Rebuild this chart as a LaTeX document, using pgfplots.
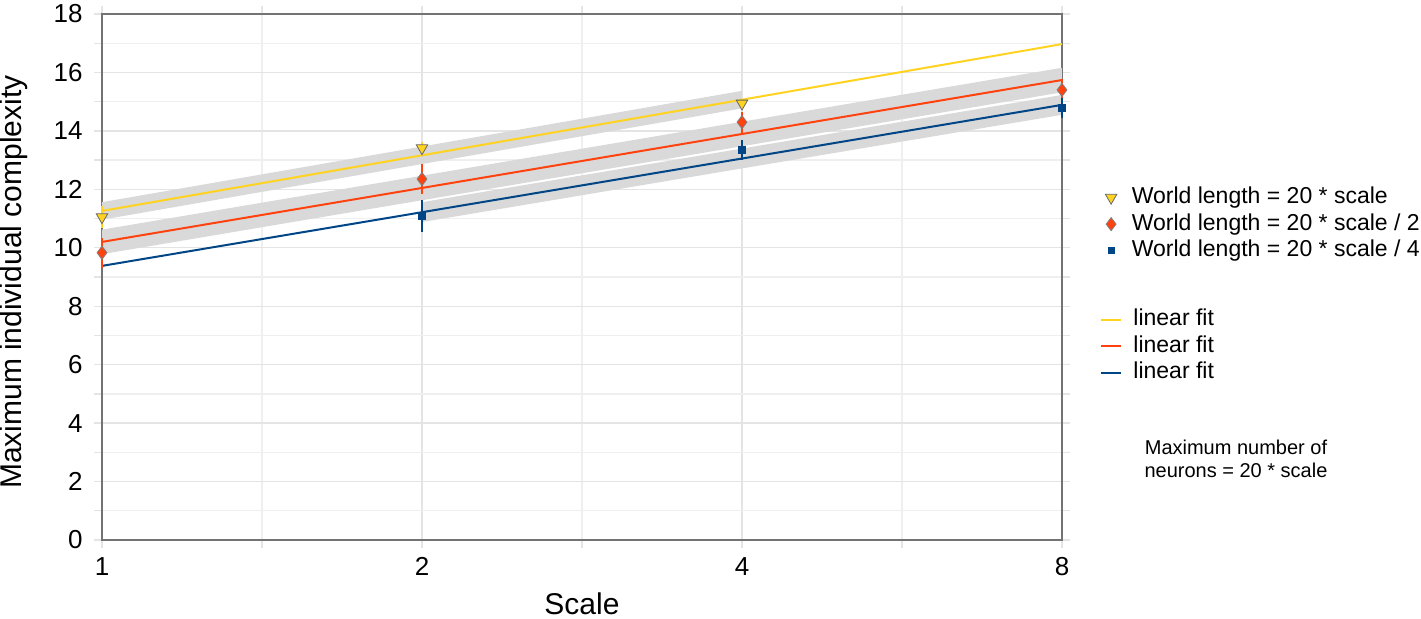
\documentclass[border=0pt]{standalone}
\usepackage{fontspec}
\setmainfont{Liberation Sans}
\usepackage{pgfplots}
\pgfplotsset{compat=1.18}
\definecolor{cyel}{HTML}{FFD320}
\definecolor{cred}{HTML}{FF420E}
\definecolor{cblu}{HTML}{004586}
\definecolor{band}{HTML}{D9D9D9}
\definecolor{gmaj}{HTML}{E4E4E4}
\definecolor{gmin}{HTML}{EFEFEF}

% x = log2(scale): 0 -> 1, 1 -> 2, 2 -> 4, 3 -> 8
\pgfplotstableread{
x y e
0 11.05 0.37
1 13.41 0.2
2 14.94 0.1
}\yel
\pgfplotstableread{
x y e
0 9.83 0.51
1 12.35 0.51
2 14.30 0.36
3 15.40 0.37
}\red
\pgfplotstableread{
x y e
1 11.09 0.55
2 13.35 0.34
3 14.78 0.34
}\blu

\begin{document}
\begin{tikzpicture}
\begin{axis}[
  at={(0,0)}, anchor=south west,
  scale only axis, width=480pt, height=263pt,
  xmin=0, xmax=3, ymin=0, ymax=18,
  xtick={0,1,2,3}, xticklabels={1,2,4,8},
  minor xtick={0.5,1.5,2.5},
  ytick={0,2,...,18}, minor ytick={1,3,...,17},
  grid=both,
  major grid style={draw=gmaj, line width=0.7pt},
  minor grid style={draw=gmin, line width=0.7pt},
  tick align=outside, major tick length=4pt, minor tick length=4pt,
  every tick/.style={draw=gmaj, line width=0.7pt},
  axis line style={draw=black!55, line width=0.7pt},
  clip=false,
  /pgf/number format/assume math mode=true,
  ticklabel style={font=\fontsize{13}{15}\selectfont},
  yticklabel style={inner xsep=5.5pt},
  xticklabel style={inner ysep=4.5pt},
  xlabel={Scale}, ylabel={Maximum individual complexity},
  label style={font=\fontsize{15}{18}\selectfont},
  xlabel style={at={(axis description cs:0.5,-0.1222)}, anchor=center},
  ylabel style={at={(axis description cs:-0.0917,0.49)}, anchor=center},
  legend image code/.code={\draw[mark repeat=2,mark phase=2,#1] plot coordinates {(0pt,0pt)(5pt,0pt)(10pt,0pt)};},
  legend style={at={(axis description cs:1.0448,0.6745)}, anchor=north west,
    draw=none, fill=none, inner sep=0pt, column sep=7.5pt, row sep=1.25pt,
    font=\fontsize{11.5}{13}\selectfont,
    nodes={inner sep=0pt, text height=9pt, text depth=3pt}},
  legend cell align=left,
]
% confidence bands
\addplot[fill=band, draw=none, forget plot] coordinates {(0,11.56) (2,15.37) (2,14.77) (0,10.96)};
\addplot[fill=band, draw=none, forget plot] coordinates {(0,10.62) (3,16.16) (3,15.32) (0,9.78)};
\addplot[fill=band, draw=none, forget plot] coordinates {(1,11.56) (3,15.23) (3,14.55) (1,10.88)};
% fit lines
\addplot[cyel, line width=1pt, forget plot] coordinates {(0,11.26) (3,16.97)};
\addplot[cred, line width=1pt, forget plot] coordinates {(0,10.20) (3,15.74)};
\addplot[cblu, line width=1pt, forget plot] coordinates {(0,9.38) (3,14.89)};
% data with error bars
\addplot[forget plot, only marks, mark=triangle*, mark size=3.3pt,
  mark options={rotate=180, fill=cyel, draw=black!60, line width=0.4pt},
  error bars/.cd, y dir=both, y explicit, error mark=none,
  error bar style={cyel, line width=1pt}]
  table[x=x, y=y, y error=e] {\yel};
\addplot[forget plot, only marks, mark=diamond*, mark size=3.3pt,
  mark options={fill=cred, draw=black!50, line width=0.4pt},
  error bars/.cd, y dir=both, y explicit, error mark=none,
  error bar style={cred, line width=1pt}]
  table[x=x, y=y, y error=e] {\red};
\addplot[forget plot, only marks, mark=square*, mark size=1.8pt,
  mark options={fill=cblu, draw=cblu, line width=0.4pt},
  error bars/.cd, y dir=both, y explicit, error mark=none,
  error bar style={cblu, line width=1pt}]
  table[x=x, y=y, y error=e] {\blu};
\addlegendimage{only marks, mark=triangle*, mark size=3.3pt, mark options={rotate=180, fill=cyel, draw=black!60, line width=0.4pt}}
\addlegendentry{World length = 20 * scale}
\addlegendimage{only marks, mark=diamond*, mark size=3.3pt, mark options={fill=cred, draw=black!50, line width=0.4pt}}
\addlegendentry{World length = 20 * scale / 2}
\addlegendimage{only marks, mark=square*, mark size=1.6pt, mark options={fill=cblu, draw=cblu}}
\addlegendentry{World length = 20 * scale / 4}
\node[font=\fontsize{10}{11.5}\selectfont, align=center] at (axis description cs:1.18125,0.154) {Maximum number of\\neurons = 20 * scale};
\end{axis}
\begin{axis}[
  at={(0,0)}, anchor=south west,
  scale only axis, width=480pt, height=263pt,
  hide axis, xmin=0, xmax=1, ymin=0, ymax=1,
  legend image code/.code={\draw[#1] (0pt,0pt) -- (10pt,0pt);},
  legend style={at={(axis description cs:1.0396,0.4426)}, anchor=north west,
    draw=none, fill=none, inner sep=0pt, column sep=5.5pt, row sep=1.25pt,
    font=\fontsize{11.5}{13}\selectfont,
    nodes={inner sep=0pt, text height=9pt, text depth=3pt}},
  legend cell align=left,
]
\addlegendimage{cyel, line width=1pt}
\addlegendentry{linear fit}
\addlegendimage{cred, line width=1pt}
\addlegendentry{linear fit}
\addlegendimage{cblu, line width=1pt}
\addlegendentry{linear fit}
\end{axis}
\pgfresetboundingbox
\path (-51pt,-39.5pt) rectangle (659.5pt,270pt);
\end{tikzpicture}
\end{document}
